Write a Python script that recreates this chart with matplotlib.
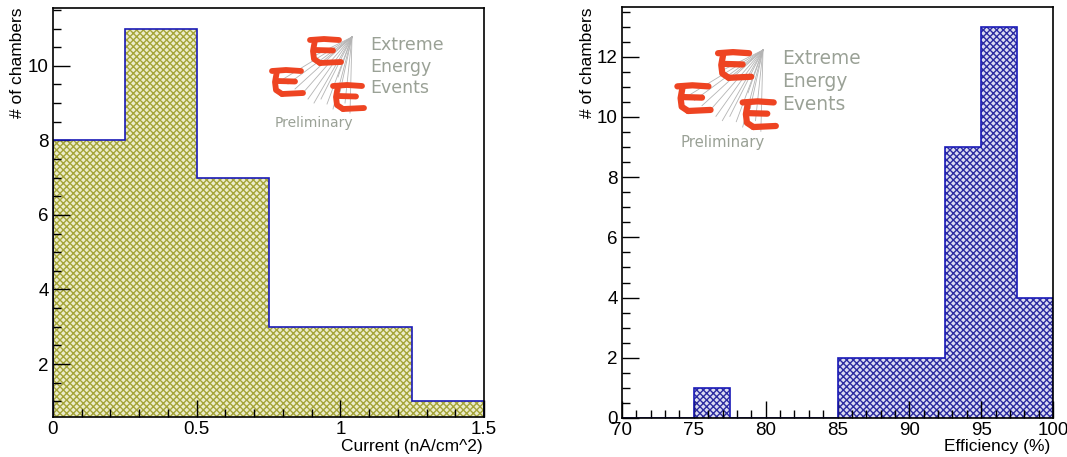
import matplotlib as mpl

mpl.use("Agg")
import matplotlib.pyplot as plt
from matplotlib.ticker import MultipleLocator, FormatStrFormatter

# data
current_edges = [0, 0.25, 0.5, 0.75, 1.0, 1.25, 1.5]
current_counts = [8, 11, 7, 3, 3, 1]
eff_edges = [70, 72.5, 75, 77.5, 80, 82.5, 85, 87.5, 90, 92.5, 95, 97.5, 100]
eff_counts = [0, 0, 1, 0, 0, 0, 2, 2, 2, 9, 13, 4]

W, H = 1067, 457
OUTLINE = "#1a1ab8"
OLIVE = "#a4a438"
NAVY = "#2c2ca0"
LOGO_GREY = "#9aa196"
LOGO_RED = "#ee4422"

plt.rcParams["font.family"] = ["Liberation Sans", "DejaVu Sans"]
plt.rcParams["hatch.linewidth"] = 1.0

fig = plt.figure(figsize=(W / 100, H / 100), dpi=100)


def px_axes(x0, x1, y0, y1):
    return fig.add_axes([x0 / W, 1 - y1 / H, (x1 - x0) / W, (y1 - y0) / H])


def root_style(ax, xmaj, xmin, ymaj, ymin):
    ax.xaxis.set_major_locator(MultipleLocator(xmaj))
    ax.xaxis.set_minor_locator(MultipleLocator(xmin))
    ax.yaxis.set_major_locator(MultipleLocator(ymaj))
    ax.yaxis.set_minor_locator(MultipleLocator(ymin))
    ax.tick_params(which="major", direction="in", length=12, width=1, labelsize=13.5, pad=3)
    ax.tick_params(which="minor", direction="in", length=6, width=1)
    for s in ax.spines.values():
        s.set_linewidth(1.2)


def hist(ax, edges, counts, hatch_color, face):
    ax.stairs(counts, edges, fill=True, facecolor=face, edgecolor=hatch_color,
              hatch="xxxxx", linewidth=0, zorder=1)
    ax.stairs(counts, edges, color=OUTLINE, linewidth=1.2, baseline=0, zorder=2)


# left: current
ax1 = px_axes(53, 484, 8, 417)
hist(ax1, current_edges, current_counts, OLIVE, "#ececcc")
ax1.set_xlim(0, 1.5)
ax1.set_ylim(0.58, 11.55)
root_style(ax1, 0.5, 0.1, 2, 0.5)
ax1.xaxis.set_major_formatter(FormatStrFormatter("%g"))
fig.text(483 / W, 1 - 447 / H, "Current (nA/cm^2)", fontsize=12.5, ha="right", va="center")
fig.text(18 / W, 1 - 8 / H, "# of chambers", fontsize=12.5, rotation=90, ha="center", va="top")

# right: efficiency
ax2 = px_axes(622, 1053, 7, 418)
hist(ax2, eff_edges, eff_counts, NAVY, "#dcdcf2")
ax2.set_xlim(70, 100)
ax2.set_ylim(0, 13.65)
root_style(ax2, 5, 1, 2, 0.5)
fig.text(1050 / W, 1 - 447 / H, "Efficiency (%)", fontsize=12.5, ha="right", va="center")
fig.text(587 / W, 1 - 8 / H, "# of chambers", fontsize=12.5, rotation=90, ha="center", va="top")

# EEE logo overlay in pixel coordinates
lay = fig.add_axes([0, 0, 1, 1], zorder=5)
lay.set_xlim(0, W)
lay.set_ylim(H, 0)
lay.axis("off")


def brush_e(x, y, s):
    # hand-drawn looking red "E": top bar, spine, middle bar, bottom curl
    kw = dict(color=LOGO_RED, linewidth=4.2 * s, solid_capstyle="round")
    lay.plot([x, x + 14 * s, x + 29 * s], [y + 1 * s, y, y + 1 * s], **kw)
    lay.plot([x + 5 * s, x + 3 * s, x + 4 * s, x + 10 * s],
             [y + 1 * s, y + 12 * s, y + 20 * s, y + 24 * s], **kw)
    lay.plot([x + 5 * s, x + 23 * s], [y + 11 * s, y + 11.5 * s], **kw)
    lay.plot([x + 10 * s, x + 31 * s], [y + 24 * s, y + 23 * s], **kw)


def logo(ax_x, ax_y, s):
    for tx, ty in [(-72, 44), (-64, 47), (-57, 52), (-50, 57), (-44, 62), (-38, 66),
                   (-31, 62), (-25, 67), (-19, 72), (-12, 55), (-7, 66), (-2, 76),
                   (-40, 20), (-30, 25), (-14, 40)]:
        lay.plot([ax_x, ax_x + tx * s], [ax_y, ax_y + ty * s], color="#b4b4b4", linewidth=0.6)
    brush_e(ax_x - 42 * s, ax_y + 2 * s, s)
    brush_e(ax_x - 80 * s, ax_y + 33 * s, s)
    brush_e(ax_x - 19 * s, ax_y + 48 * s, s)
    for i, word in enumerate(["Extreme", "Energy", "Events"]):
        lay.text(ax_x + 18 * s, ax_y + (8 + 21.5 * i) * s, word, color=LOGO_GREY,
                 fontsize=12.5 * s, family="DejaVu Sans", va="center", ha="left")
    lay.text(ax_x - 38 * s, ax_y + 86 * s, "Preliminary", color=LOGO_GREY,
             fontsize=10 * s, family="DejaVu Sans", va="center", ha="center")


logo(352, 37, 1.0)
logo(763, 50, 1.07)

fig.savefig("out.png", dpi=100)
